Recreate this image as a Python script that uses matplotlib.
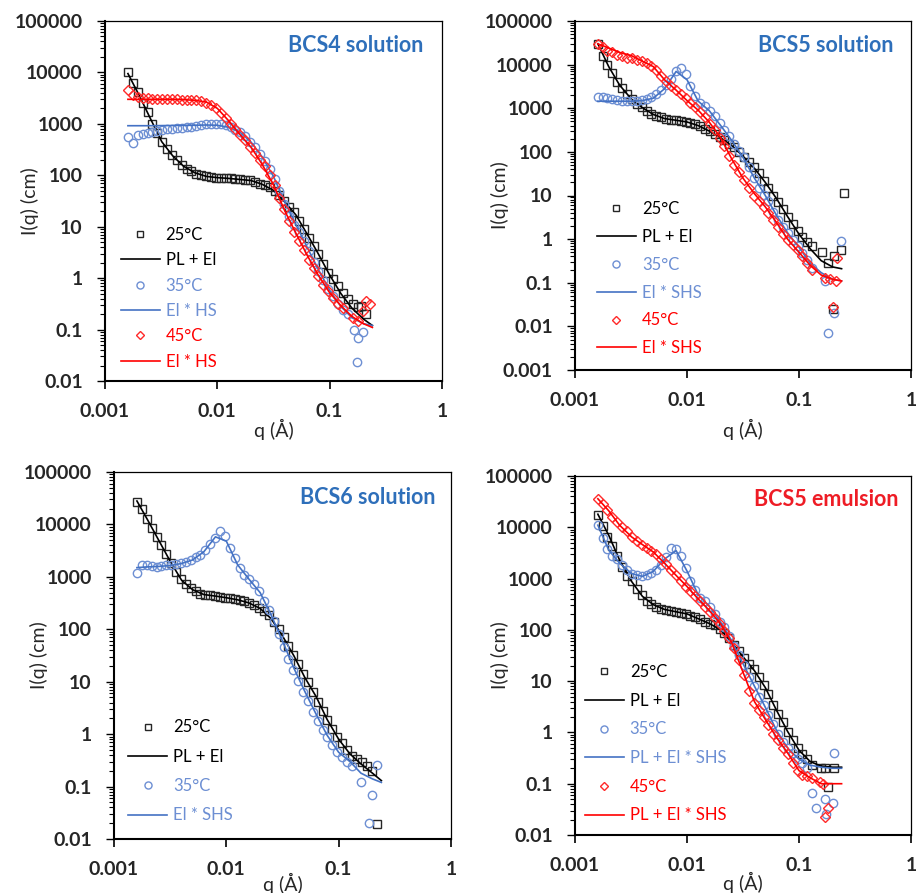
import matplotlib
matplotlib.use("Agg")
import matplotlib.pyplot as plt
from matplotlib.ticker import FixedLocator, FixedFormatter, LogLocator, NullLocator, NullFormatter

plt.rcParams['font.family'] = ['Lato', 'DejaVu Sans']

# ---------------------------------------------------------------- data
# scattering vector of the measured points (1/Å)
q = [0.00160, 0.00177, 0.00195, 0.00216, 0.00239, 0.00264, 0.00292, 0.00322, 0.00356,
     0.00394, 0.00436, 0.00481, 0.00532, 0.00588, 0.00650, 0.00719, 0.00794, 0.00878,
     0.00971, 0.0107, 0.0119, 0.0131, 0.0145, 0.0160, 0.0177, 0.0196, 0.0216, 0.0239,
     0.0264, 0.0292, 0.0323, 0.0357, 0.0394, 0.0436, 0.0482, 0.0533, 0.0589, 0.0651,
     0.0719, 0.0795, 0.0879, 0.0971, 0.107, 0.119, 0.131]
# scattering vector of the model curves
q_fit = [0.0016, 0.002, 0.0025, 0.0032, 0.004, 0.005, 0.0063, 0.008, 0.01, 0.0126,
         0.0158, 0.02, 0.025, 0.0316, 0.04, 0.05, 0.063, 0.079, 0.1, 0.126, 0.158, 0.2, 0.24]

# BCS4 solution
bcs4_25 = [10000, 6300, 4100, 2600, 1700, 1000, 660, 440, 320, 245, 195, 160, 135, 120, 108,
           100, 95, 92, 90, 89, 88, 87, 85, 83, 82, 80, 75, 69, 65, 58, 50, 42, 32, 24, 19,
           13, 9, 6, 4.3, 2.9, 1.9, 1.25, 0.95, 0.7, 0.52]
bcs4_25_tail_q = [0.145, 0.16, 0.177, 0.19, 0.21]
bcs4_25_tail = [0.4, 0.32, 0.27, 0.29, 0.2]
bcs4_25_fit = [9500, 3700, 1350, 450, 240, 150, 112, 95, 90, 87, 83, 79, 67, 51, 30, 17, 7.2,
               3.0, 1.15, 0.5, 0.26, 0.16, 0.12]
bcs4_35 = [557, 420, 600, 630, 670, 700, 720, 750, 780, 800, 820, 840, 860, 880, 900, 950,
           980, 1000, 1000, 980, 930, 850, 760, 680, 580, 450, 360, 260, 190, 130, 85, 50, 28,
           16, 11, 7.8, 5.2, 3.4, 2.1, 1.4, 0.9, 0.62, 0.44, 0.32, 0.24]
bcs4_35_tail_q = [0.145, 0.163, 0.174, 0.18, 0.2]
bcs4_35_tail = [0.2, 0.1, 0.023, 0.07, 0.09]
bcs4_35_fit = [920, 920, 920, 925, 930, 935, 940, 950, 940, 860, 700, 440, 230, 95, 30, 11,
               4.0, 1.5, 0.58, 0.28, 0.17, 0.13, 0.12]
bcs4_45 = [4500, 3700, 3300, 3200, 3150, 3100, 3100, 3050, 3050, 3000, 3000, 2950, 2950, 2900,
           2850, 2800, 2600, 2300, 2000, 1650, 1300, 1000, 780, 620, 480, 360, 270, 200, 150,
           100, 65, 36, 22, 13, 8, 5.3, 3.5, 2.3, 1.6, 1.1, 0.75, 0.55, 0.42, 0.32, 0.26]
bcs4_45_tail_q = [0.16, 0.18, 0.2, 0.21, 0.23]
bcs4_45_tail = [0.17, 0.15, 0.23, 0.36, 0.31]
bcs4_45_fit = [3000, 3000, 3000, 3000, 3000, 2950, 2870, 2650, 2000, 1150, 630, 350, 165, 65,
               20, 7.5, 2.8, 1.15, 0.52, 0.29, 0.18, 0.13, 0.11]

# BCS5 solution
bcs5_25 = [29000, 16000, 10000, 6300, 4000, 2900, 2100, 1600, 1250, 1050, 870, 750, 680, 620,
           580, 550, 530, 510, 490, 470, 430, 390, 340, 300, 260, 220, 185, 155, 130, 100, 78,
           60, 44, 32, 22, 15, 10, 7, 4.8, 3.3, 2.2, 1.5, 1.1, 0.88, 0.7]
bcs5_25_tail_q = [0.16, 0.18, 0.203, 0.206, 0.237, 0.25]
bcs5_25_tail = [0.5, 0.28, 0.025, 0.4, 0.56, 11.7]
bcs5_25_fit = [30000, 9000, 3400, 1600, 1030, 720, 580, 530, 485, 400, 300, 210, 140, 80, 42,
               20, 8.5, 3.3, 1.3, 0.6, 0.32, 0.23, 0.21]
bcs5_35 = [1850, 1800, 1700, 1600, 1550, 1500, 1500, 1500, 1500, 1550, 1650, 1800, 2100, 2600,
           3400, 4800, 7000, 8500, 6000, 3200, 1900, 1350, 1100, 880, 650, 450, 320, 230, 155,
           105, 75, 45, 25, 15, 10.5, 7.5, 4.2, 2.8, 1.9, 1.35, 0.95, 0.68, 0.47, 0.33, 0.22]
bcs5_35_tail_q = [0.17, 0.18, 0.204, 0.237]
bcs5_35_tail = [0.11, 0.0072, 0.02, 0.9]
bcs5_35_fit = [1450, 1450, 1450, 1450, 1500, 1700, 2800, 7000, 4500, 1450, 880, 400, 185, 75,
               25, 10, 3.5, 1.4, 0.65, 0.28, 0.17, 0.12, 0.11]
bcs5_45 = [30000, 25000, 21000, 19000, 17000, 15500, 14500, 14000, 13000, 12000, 11000, 9500,
           7500, 5600, 4200, 3200, 2600, 2100, 1700, 1350, 1050, 800, 620, 440, 310, 210, 140,
           82, 50, 34, 23, 15, 10, 7.5, 5.5, 4, 2.8, 1.9, 1.3, 0.95, 0.72, 0.55, 0.4, 0.29, 0.2]
bcs5_45_tail_q = [0.17, 0.19, 0.202, 0.215, 0.22]
bcs5_45_tail = [0.13, 0.12, 0.028, 0.11, 0.36]
bcs5_45_fit = [30000, 24000, 19000, 16000, 12000, 9000, 4500, 2600, 1500, 900, 480, 210, 70,
               25, 11, 5.5, 2.4, 1.0, 0.5, 0.25, 0.15, 0.12, 0.11]

# BCS6 solution
bcs6_25 = [27000, 20000, 12500, 8500, 5800, 4000, 2700, 1850, 1250, 900, 720, 610, 530, 480,
           460, 445, 430, 415, 400, 390, 375, 360, 340, 320, 295, 260, 220, 185, 140, 100, 70,
           48, 32, 22, 14, 9.8, 6.3, 4.1, 2.8, 1.85, 1.25, 0.88, 0.68, 0.5, 0.39]
bcs6_25_tail_q = [0.145, 0.16, 0.18, 0.2, 0.219]
bcs6_25_tail = [0.33, 0.29, 0.25, 0.2, 0.019]
bcs6_25_fit = [28000, 12000, 5000, 1900, 860, 570, 460, 430, 400, 365, 320, 250, 160, 75, 31,
               12, 5.2, 1.9, 0.8, 0.42, 0.27, 0.18, 0.13]
bcs6_35 = [1200, 1700, 1650, 1600, 1550, 1600, 1650, 1700, 1750, 1850, 1950, 2100, 2350, 2650,
           3300, 4200, 5500, 7500, 6000, 3600, 2300, 1500, 1100, 900, 730, 540, 350, 230, 145,
           80, 45, 27, 17, 10.5, 6.5, 4.2, 2.7, 1.75, 1.2, 0.87, 0.63, 0.46, 0.36, 0.3, 0.25]
bcs6_35_tail_q = [0.159, 0.185, 0.197, 0.219]
bcs6_35_tail = [0.12, 0.02, 0.07, 0.26]
bcs6_35_fit = [1500, 1550, 1580, 1650, 1800, 2100, 3000, 5800, 4800, 1700, 920, 500, 190, 60,
               18, 6.5, 2.4, 0.95, 0.45, 0.3, 0.18, 0.14, 0.12]

# BCS5 emulsion
bcs5e_25 = [17000, 10500, 6500, 4300, 2700, 1700, 1130, 880, 620, 470, 370, 320, 285, 260, 245,
            235, 225, 215, 205, 190, 175, 160, 145, 132, 122, 105, 85, 68, 50, 38, 28, 22, 17,
            12, 8.5, 5.6, 3.5, 2.3, 1.6, 1.0, 0.7, 0.5, 0.38, 0.3, 0.23]
bcs5e_25_tail_q = [0.157, 0.171, 0.18, 0.206]
bcs5e_25_tail = [0.2, 0.2, 0.088, 0.2]
bcs5e_25_fit = [18000, 7000, 2300, 880, 450, 310, 250, 225, 205, 165, 133, 100, 57, 30, 16,
                7.5, 2.7, 1.05, 0.45, 0.27, 0.22, 0.21, 0.21]
bcs5e_35 = [11000, 6300, 3800, 2700, 2400, 1800, 1450, 1250, 1150, 1100, 1150, 1300, 1500,
            1850, 2600, 3900, 3700, 2800, 1600, 900, 600, 420, 360, 280, 200, 145, 115, 75, 48,
            32, 21, 12, 8, 5, 3.4, 2.2, 1.45, 0.95, 0.65, 0.5, 0.4, 0.3, 0.25, 0.2, 0.065]
bcs5e_35_tail_q = [0.143, 0.169, 0.176, 0.2, 0.206]
bcs5e_35_tail = [0.034, 0.05, 0.026, 0.042, 0.39]
bcs5e_35_fit = [11000, 3600, 2000, 1250, 1100, 1380, 2400, 3500, 1400, 480, 290, 140, 62, 22,
                8, 3.1, 1.1, 0.5, 0.3, 0.23, 0.21, 0.2, 0.2]
bcs5e_45 = [36000, 28000, 22000, 16000, 12500, 10000, 8300, 6500, 5300, 4600, 4000, 3500, 3000,
            2400, 1900, 1500, 1150, 880, 700, 560, 450, 360, 280, 220, 170, 130, 95, 70, 45, 26,
            13, 6.5, 3.8, 2.7, 2.0, 1.4, 0.95, 0.7, 0.5, 0.38, 0.25, 0.18, 0.15, 0.14, 0.13]
bcs5e_45_tail_q = [0.155, 0.165, 0.169, 0.18]
bcs5e_45_tail = [0.11, 0.1, 0.022, 0.034]
bcs5e_45_fit = [36000, 21000, 11000, 6500, 4600, 3300, 2000, 1150, 700, 400, 240, 130, 57, 15,
                4, 1.8, 0.8, 0.4, 0.18, 0.13, 0.1, 0.1, 0.1]

# axis ticks
x_tick_values = [0.001, 0.01, 0.1, 1]
x_tick_labels = ["0.001", "0.01", "0.1", "1"]
y_tick_values = [0.001, 0.01, 0.1, 1, 10, 100, 1000, 10000, 100000]
y_tick_labels = ["0.001", "0.01", "0.1", "1", "10", "100", "1000", "10000", "100000"]

# ---------------------------------------------------------------- styles
BLACK_M, BLACK_L = "#262626", "#000000"
BLUE_M, BLUE_L, BLUE_T = "#6d8fd3", "#4472c4", "#2e6fba"
RED_M, RED_L, RED_T = "#ff2a2a", "#ff0000", "#ee1c25"
TICK_C = "#262626"

W, H = 917, 893
fig = plt.figure(figsize=(W / 100, H / 100), dpi=100)


def px_rect(left, top, right, bottom):
    return [left / W, 1 - bottom / H, (right - left) / W, (bottom - top) / H]


series_style = {
    25: dict(marker="s", mec=BLACK_M, ms=5.6, line=BLACK_L, text=BLACK_L),
    35: dict(marker="o", mec=BLUE_M, ms=6.0, line=BLUE_L, text=BLUE_M),
    45: dict(marker="D", mec=RED_M, ms=4.8, line=RED_L, text=RED_L),
}

panels = [
    dict(rect=px_rect(105, 21, 442, 381), ylim=(0.01, 1e5),
         title="BCS4 solution", title_color=BLUE_T, title_xy=(0.946, 0.932),
         series=[(25, bcs4_25, bcs4_25_tail_q, bcs4_25_tail, bcs4_25_fit, "PL + El"),
                 (35, bcs4_35, bcs4_35_tail_q, bcs4_35_tail, bcs4_35_fit, "El * HS"),
                 (45, bcs4_45, bcs4_45_tail_q, bcs4_45_tail, bcs4_45_fit, "El * HS")],
         leg_xy=(0.046, 0.428), leg_space=0.56, ylab_x=-0.197, xlab_y=-0.105),
    dict(rect=px_rect(575, 21, 911, 370), ylim=(0.001, 1e5),
         title="BCS5 solution", title_color=BLUE_T, title_xy=(0.947, 0.930),
         series=[(25, bcs5_25, bcs5_25_tail_q, bcs5_25_tail, bcs5_25_fit, "PL + El"),
                 (35, bcs5_35, bcs5_35_tail_q, bcs5_35_tail, bcs5_35_fit, "El * SHS"),
                 (45, bcs5_45, bcs5_45_tail_q, bcs5_45_tail, bcs5_45_fit, "El * SHS")],
         leg_xy=(0.065, 0.484), leg_space=0.71, ylab_x=-0.197, xlab_y=-0.14),
    dict(rect=px_rect(114, 472, 451, 839), ylim=(0.01, 1e5),
         title="BCS6 solution", title_color=BLUE_T, title_xy=(0.953, 0.931),
         series=[(25, bcs6_25, bcs6_25_tail_q, bcs6_25_tail, bcs6_25_fit, "PL + El"),
                 (35, bcs6_35, bcs6_35_tail_q, bcs6_35_tail, bcs6_35_fit, "El * SHS")],
         leg_xy=(0.042, 0.326), leg_space=0.8, ylab_x=-0.197, xlab_y=-0.093),
    dict(rect=px_rect(575, 476, 911, 835), ylim=(0.01, 1e5),
         title="BCS5 emulsion", title_color=RED_T, title_xy=(0.964, 0.935),
         series=[(25, bcs5e_25, bcs5e_25_tail_q, bcs5e_25_tail, bcs5e_25_fit, "PL + El"),
                 (35, bcs5e_35, bcs5e_35_tail_q, bcs5e_35_tail, bcs5e_35_fit, "PL + El * SHS"),
                 (45, bcs5e_45, bcs5e_45_tail_q, bcs5e_45_tail, bcs5e_45_fit, "PL + El * SHS")],
         leg_xy=(0.029, 0.476), leg_space=0.76, ylab_x=-0.197, xlab_y=-0.103),
]

for p in panels:
    ax = fig.add_axes(p["rect"])
    ax.set_xscale("log")
    ax.set_yscale("log")
    ax.set_xlim(0.001, 1)
    ax.set_ylim(*p["ylim"])

    handles, labels, colors = [], [], []
    for temp, vals, tq, tv, fit, model in p["series"]:
        st = series_style[temp]
        mk, = ax.plot(q + tq, vals + tv, ls="none", marker=st["marker"], ms=st["ms"],
                      mfc="none", mec=st["mec"], mew=1.0)
        ln, = ax.plot(q_fit, fit, color=st["line"], lw=1.2)
        handles += [mk, ln]
        labels += [f"{temp}°C", model]
        colors += [st["text"], st["line"] if temp != 35 else BLUE_M]

    ax.legend(handles, labels, loc="upper left", bbox_to_anchor=p["leg_xy"],
              frameon=False, borderpad=0, borderaxespad=0, fontsize=12,
              handlelength=2.35, handletextpad=0.35, labelspacing=p["leg_space"],
              numpoints=1, markerscale=0.85, labelcolor=colors)

    ax.text(*p["title_xy"], p["title"], transform=ax.transAxes, ha="right", va="center",
            fontsize=15.5, fontweight="bold", color=p["title_color"])

    lo, hi = p["ylim"]
    yt = [v for v in y_tick_values if lo <= v <= hi]
    yl = [l for v, l in zip(y_tick_values, y_tick_labels) if lo <= v <= hi]
    ax.yaxis.set_major_locator(FixedLocator(yt))
    ax.yaxis.set_major_formatter(FixedFormatter(yl))
    ax.yaxis.set_minor_locator(LogLocator(base=10, subs=[2, 3, 4, 5, 6, 7, 8, 9], numticks=20))
    ax.yaxis.set_minor_formatter(NullFormatter())
    ax.xaxis.set_major_locator(FixedLocator(x_tick_values))
    ax.xaxis.set_major_formatter(FixedFormatter(x_tick_labels))
    ax.xaxis.set_minor_locator(NullLocator())

    ax.tick_params(axis="y", which="major", direction="out", length=6, width=1.0, pad=10,
                   labelsize=14, labelcolor=TICK_C)
    ax.tick_params(axis="y", which="minor", direction="out", length=3.5, width=0.8)
    ax.tick_params(axis="x", which="major", direction="out", length=5.5, width=1.2, pad=10,
                   labelsize=14, labelcolor=TICK_C)
    for lab in ax.get_xticklabels() + ax.get_yticklabels():
        lab.set_fontweight("bold")

    for side in ("left", "bottom"):
        ax.spines[side].set_linewidth(1.5)
    for side in ("top", "right"):
        ax.spines[side].set_linewidth(0.9)

    ax.set_ylabel("I(q) (cm)", fontsize=14, color=TICK_C)
    ax.yaxis.set_label_coords(p["ylab_x"], 0.5)
    ax.set_xlabel("q (Å)", fontsize=14, color=TICK_C)
    ax.xaxis.set_label_coords(0.5, p["xlab_y"])

fig.savefig("out.png", dpi=100)
